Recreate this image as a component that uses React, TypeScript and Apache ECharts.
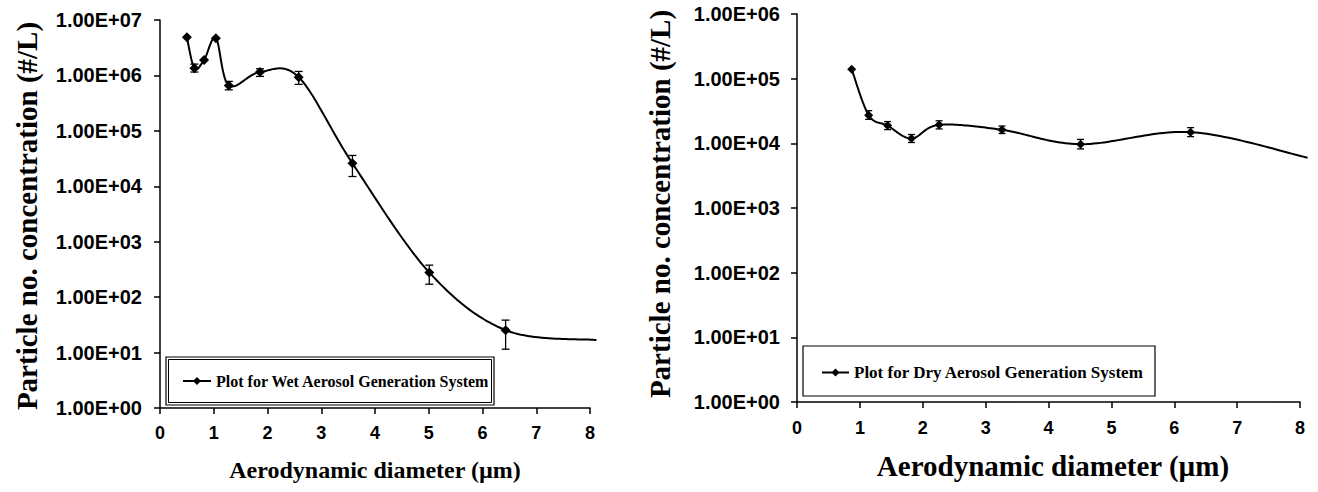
import React, { useEffect, useRef } from "react";
import * as echarts from "echarts";

// ---- Wet aerosol generation system (left panel) ----
const wetX = [0.5, 0.64, 0.82, 1.04, 1.28, 1.86, 2.58, 3.58, 5.01, 6.43];
const wetY = [4.9e6, 1.35e6, 1.9e6, 4.7e6, 6.6e5, 1.15e6, 9.3e5, 2.6e4, 279, 25.4];
const wetErrHigh = [null, 1.6e6, null, null, 7.8e5, 1.32e6, 1.18e6, 3.6e4, 378, 38.5];
const wetErrLow = [null, 1.15e6, null, null, 5.5e5, 9.6e5, 6.9e5, 1.5e4, 171, 11.5];
const wetTail = [8.12, 16.8];

// ---- Dry aerosol generation system (right panel) ----
const dryX = [0.87, 1.14, 1.44, 1.82, 2.26, 3.26, 4.51, 6.26];
const dryY = [1.4e5, 2.73e4, 1.88e4, 1.19e4, 1.93e4, 1.62e4, 9.7e3, 1.49e4];
const dryErrHigh = [null, 3.2e4, 2.17e4, 1.37e4, 2.23e4, 1.85e4, 1.15e4, 1.75e4];
const dryErrLow = [null, 2.35e4, 1.63e4, 1.03e4, 1.67e4, 1.42e4, 8.2e3, 1.27e4];
const dryTail = [8.12, 6.0e3];

const xTicks = [0, 1, 2, 3, 4, 5, 6, 7, 8];
const wetYMax = 1e7;
const dryYMax = 1e6;

const wetName = "Plot for Wet Aerosol Generation System";
const dryName = "Plot for Dry Aerosol Generation System";
const yTitle = "Particle no. concentration (#/L)";
const xTitle = "Aerodynamic diameter (µm)";

const SERIF = '"Liberation Serif", "Times New Roman", serif';

function expLabel(v: number) {
  const e = Math.round(Math.log10(v));
  return `1.00E+${e < 10 ? "0" + e : e}`;
}

function errData(xs: number[], lo: (number | null)[], hi: (number | null)[]) {
  const out: number[][] = [];
  xs.forEach((x, i) => {
    if (lo[i] != null && hi[i] != null) out.push([x, lo[i] as number, hi[i] as number]);
  });
  return out;
}

function makeErrRender(cap: number) {
  return (params: any, api: any) => {
    const x = api.value(0);
    const pLo = api.coord([x, api.value(1)]);
    const pHi = api.coord([x, api.value(2)]);
    const st = { stroke: "#000", lineWidth: 1.3 };
    return {
      type: "group",
      children: [
        { type: "line", shape: { x1: pLo[0], y1: pLo[1], x2: pHi[0], y2: pHi[1] }, style: st },
        { type: "line", shape: { x1: pLo[0] - cap, y1: pLo[1], x2: pLo[0] + cap, y2: pLo[1] }, style: st },
        { type: "line", shape: { x1: pHi[0] - cap, y1: pHi[1], x2: pHi[0] + cap, y2: pHi[1] }, style: st },
      ],
    };
  };
}

// Smoothed (Catmull-Rom style) curve through the data points, computed in pixel space
function makeCurveRender(pts: number[][]) {
  return (params: any, api: any) => {
    if (params.dataIndex !== 0) return null;
    const P = pts.map((p) => api.coord(p));
    const out: number[][] = [];
    const n = P.length;
    for (let i = 0; i < n - 1; i++) {
      const p0 = P[Math.max(i - 1, 0)];
      const p1 = P[i];
      const p2 = P[i + 1];
      const p3 = P[Math.min(i + 2, n - 1)];
      const c1 = [p1[0] + (p2[0] - p0[0]) / 6, p1[1] + (p2[1] - p0[1]) / 6];
      const c2 = [p2[0] - (p3[0] - p1[0]) / 6, p2[1] - (p3[1] - p1[1]) / 6];
      const steps = 30;
      for (let k = 0; k < steps; k++) {
        const t = k / steps;
        const u = 1 - t;
        const a = u * u * u, b = 3 * u * u * t, c = 3 * u * t * t, d = t * t * t;
        out.push([
          a * p1[0] + b * c1[0] + c * c2[0] + d * p2[0],
          a * p1[1] + b * c1[1] + c * c2[1] + d * p2[1],
        ]);
      }
    }
    out.push(P[n - 1]);
    return {
      type: "polyline",
      shape: { points: out },
      style: { stroke: "#000", lineWidth: 2, fill: "none" },
    };
  };
}

function xAxisCfg(gridIndex: number, margin: number) {
  return {
    type: "value",
    gridIndex,
    min: xTicks[0],
    max: xTicks[xTicks.length - 1],
    interval: 1,
    axisLine: { show: true, onZero: false, lineStyle: { color: "#000", width: 1.5 } },
    axisTick: { show: true, length: 6, lineStyle: { color: "#000", width: 1.5 } },
    splitLine: { show: false },
    axisLabel: {
      margin,
      color: "#000",
      fontFamily: "Liberation Sans",
      fontWeight: "bold",
      fontSize: 18,
    },
  };
}

function yAxisCfg(gridIndex: number, max: number, margin: number) {
  return {
    type: "log",
    logBase: 10,
    gridIndex,
    min: 1,
    max,
    splitNumber: 10,
    axisLine: { show: true, lineStyle: { color: "#000", width: 1.5 } },
    axisTick: { show: true, length: 6, lineStyle: { color: "#000", width: 1.5 } },
    minorTick: { show: false },
    splitLine: { show: false },
    axisLabel: {
      margin,
      color: "#000",
      fontFamily: "Liberation Sans",
      fontWeight: "bold",
      fontSize: 20,
      formatter: (v: number) => expLabel(v),
    },
  };
}

export default function App() {
  const ref = useRef<HTMLDivElement>(null);
  useEffect(() => {
    if (!ref.current) return;
    const chart = echarts.init(ref.current, undefined, { renderer: "svg" });

    const wetPts = wetX.map((x, i) => [x, wetY[i]]);
    const dryPts = dryX.map((x, i) => [x, dryY[i]]);
    const wetCurve = wetPts.concat([wetTail]);
    const dryCurve = dryPts.concat([dryTail]);

    const legendText = {
      color: "#000",
      fontFamily: SERIF,
      fontWeight: "bold",
    };

    chart.setOption({
      animation: false,
      backgroundColor: "#fff",
      grid: [
        { left: 160, top: 20, width: 430, height: 388 },
        { left: 797, top: 14, width: 503, height: 388 },
      ],
      xAxis: [xAxisCfg(0, 16), xAxisCfg(1, 17)],
      yAxis: [yAxisCfg(0, wetYMax, 18), yAxisCfg(1, dryYMax, 17)],
      legend: [
        {
          data: [wetName],
          left: 182,
          top: 373,
          padding: 0,
          itemWidth: 28,
          itemHeight: 10,
          selectedMode: false,
          lineStyle: { width: 2, color: "#000" },
          textStyle: { ...legendText, fontSize: 16 },
        },
        {
          data: [dryName],
          left: 821,
          top: 364,
          padding: 0,
          itemWidth: 27,
          itemHeight: 10,
          selectedMode: false,
          lineStyle: { width: 2, color: "#000" },
          textStyle: { ...legendText, fontSize: 17 },
        },
      ],
      series: [
        {
          name: "wetCurve",
          type: "custom",
          xAxisIndex: 0,
          yAxisIndex: 0,
          data: wetCurve,
          encode: { x: 0, y: 1 },
          renderItem: makeCurveRender(wetCurve),
          z: 2,
        },
        {
          name: wetName,
          type: "line",
          xAxisIndex: 0,
          yAxisIndex: 0,
          data: wetPts,
          symbol: "diamond",
          symbolSize: 10,
          lineStyle: { color: "#000", width: 0 },
          itemStyle: { color: "#000" },
          z: 3,
        },
        {
          name: "wetErr",
          type: "custom",
          xAxisIndex: 0,
          yAxisIndex: 0,
          data: errData(wetX, wetErrLow, wetErrHigh),
          encode: { x: 0, y: [1, 2] },
          renderItem: makeErrRender(4),
          z: 4,
        },
        {
          name: "dryCurve",
          type: "custom",
          xAxisIndex: 1,
          yAxisIndex: 1,
          data: dryCurve,
          encode: { x: 0, y: 1 },
          renderItem: makeCurveRender(dryCurve),
          z: 2,
        },
        {
          name: dryName,
          type: "line",
          xAxisIndex: 1,
          yAxisIndex: 1,
          data: dryPts,
          symbol: "diamond",
          symbolSize: 9,
          lineStyle: { color: "#000", width: 0 },
          itemStyle: { color: "#000" },
          z: 3,
        },
        {
          name: "dryErr",
          type: "custom",
          xAxisIndex: 1,
          yAxisIndex: 1,
          data: errData(dryX, dryErrLow, dryErrHigh),
          encode: { x: 0, y: [1, 2] },
          renderItem: makeErrRender(3.5),
          z: 4,
        },
      ],
      graphic: [
        // legend boxes
        { type: "rect", shape: { x: 166, y: 357, width: 328, height: 48 }, style: { fill: "#fff", stroke: "#000", lineWidth: 1.2 }, z: 1 },
        { type: "rect", shape: { x: 168.5, y: 359.5, width: 323, height: 43 }, style: { fill: "none", stroke: "#000", lineWidth: 1 }, z: 1 },
        { type: "rect", shape: { x: 803, y: 346, width: 352, height: 50 }, style: { fill: "#fff", stroke: "#000", lineWidth: 1.2 }, z: 1 },
        // axis titles
        {
          type: "text",
          x: 27,
          y: 216,
          rotation: Math.PI / 2,
          style: { text: yTitle, font: `bold 29px ${SERIF}`, fill: "#000", align: "center", verticalAlign: "middle" },
        },
        {
          type: "text",
          x: 375,
          y: 470,
          style: { text: xTitle, font: `bold 24px ${SERIF}`, fill: "#000", align: "center", verticalAlign: "middle" },
        },
        {
          type: "text",
          x: 660,
          y: 204,
          rotation: Math.PI / 2,
          style: { text: yTitle, font: `bold 29px ${SERIF}`, fill: "#000", align: "center", verticalAlign: "middle" },
        },
        {
          type: "text",
          x: 1053,
          y: 466,
          style: { text: xTitle, font: `bold 29px ${SERIF}`, fill: "#000", align: "center", verticalAlign: "middle" },
        },
      ],
    });
    return () => chart.dispose();
  }, []);

  return (
    <div
      ref={ref}
      style={{ position: "fixed", left: 0, top: 0, width: 1318, height: 492, background: "#fff" }}
    />
  );
}
